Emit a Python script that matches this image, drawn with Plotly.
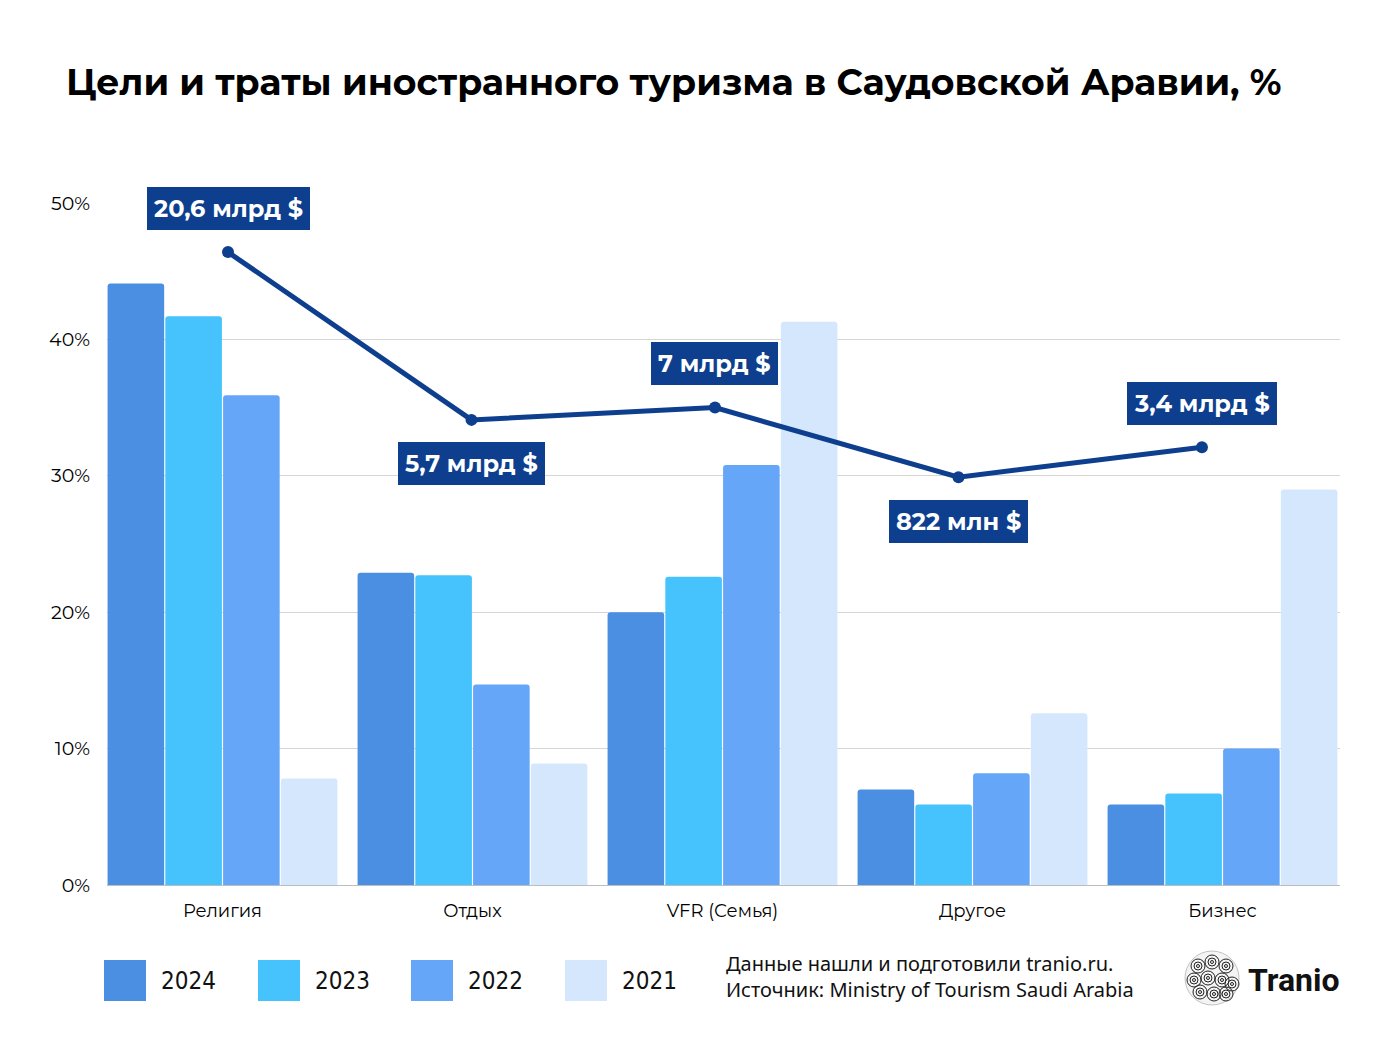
import plotly.graph_objects as go

categories = ["Религия", "Отдых", "VFR (Семья)", "Другое", "Бизнес"]
years = ["2024", "2023", "2022", "2021"]
share_2024 = [44.1, 22.9, 20.0, 7.0, 5.9]
share_2023 = [41.7, 22.7, 22.6, 5.9, 6.7]
share_2022 = [35.9, 14.7, 30.8, 8.2, 10.0]
share_2021 = [7.8, 8.9, 41.3, 12.6, 29.0]
spend_line = [46.4, 34.1, 35.0, 29.9, 32.1]
spend_labels = ["20,6 млрд $", "5,7 млрд $", "7 млрд $", "822 млн $", "3,4 млрд $"]
label_side = [1, -1, 1, -1, 1]
y_ticks = [0, 10, 20, 30, 40, 50]
y_tick_text = [f"{v}%" for v in y_ticks]

colors = ["#4a8fe2", "#46c3fc", "#65a6f9", "#d5e7fd"]
dark = "#0e3f8f"
series = [share_2024, share_2023, share_2022, share_2021]

OFF = 8  # page body margin
W, H = 1386 - OFF, 1040 - OFF
pl, pr, pt, pb = 107 - OFF, 1340 - OFF, 203 - OFF, 885 - OFF


def px(x):
    return (x - OFF - pl) / (pr - pl)


def py(y):
    return (pb - (y - OFF)) / (pb - pt)


fig = go.Figure()
for name, vals, col in zip(years, series, colors):
    fig.add_trace(go.Bar(x=categories, y=vals, name=name, marker=dict(color=col, line=dict(width=0)),
                         showlegend=False, hoverinfo="skip"))

fig.add_trace(go.Scatter(x=list(range(len(categories))), y=spend_line, xaxis="x2", yaxis="y",
                         mode="lines+markers", line=dict(color=dark, width=5),
                         marker=dict(color=dark, size=12), showlegend=False, hoverinfo="skip"))

annotations = []
for i, (v, t, s) in enumerate(zip(spend_line, spend_labels, label_side)):
    annotations.append(dict(x=i, y=v, xref="x2", yref="y", text="<b>" + t + "</b>", showarrow=False,
                            yshift=44 * s, font=dict(family="Montserrat, Lato, sans-serif", size=24, color="white"),
                            bgcolor=dark, bordercolor=dark, borderwidth=1, borderpad=6))

# title
annotations.append(dict(text="<b>Цели и траты иностранного туризма в Саудовской Аравии, %</b>",
                        xref="paper", yref="paper", x=px(64), y=py(82), yanchor="middle", xanchor="left",
                        showarrow=False,
                        font=dict(family="Montserrat, Lato, sans-serif", size=36.2, color="black")))

# custom legend
shapes = []
leg_x0 = [104, 258, 411, 565]
for x0, col, name in zip(leg_x0, colors, years):
    shapes.append(dict(type="rect", xref="paper", yref="paper", x0=px(x0), x1=px(x0 + 42),
                       y0=py(1001), y1=py(960), fillcolor=col, line=dict(width=0)))
    annotations.append(dict(text=name, xref="paper", yref="paper", x=px(x0 + 55), y=py(981),
                            xanchor="left", yanchor="middle", showarrow=False,
                            font=dict(family="Liberation Sans Narrow, DejaVu Sans Condensed, Noto Sans", size=24, color="#111")))

annotations.append(dict(text="Данные нашли и подготовили tranio.ru.<br>Источник: Ministry of Tourism Saudi Arabia",
                        xref="paper", yref="paper", x=px(724), y=py(977), xanchor="left",
                        yanchor="middle", align="left", showarrow=False,
                        font=dict(family="Noto Sans, sans-serif", size=20, color="#111")))
annotations.append(dict(text="<b>Tranio</b>", xref="paper", yref="paper", x=px(1246), y=py(980),
                        xanchor="left", yanchor="middle", showarrow=False,
                        font=dict(family="Roboto, sans-serif", size=32, color="#111")))

# logo: circle with swirl rings
cx, cy, r = 1212, 978, 27
shapes.append(dict(type="circle", xref="paper", yref="paper", x0=px(cx - r), x1=px(cx + r),
                   y0=py(cy + r), y1=py(cy - r), fillcolor="#f4f4f4", line=dict(color="#888", width=0.5)))
for dx, dy in [(-14, -12), (0, -16), (14, -12), (-18, 2), (-4, 0), (10, 2), (20, 6), (-12, 14), (2, 16), (14, 16)]:
    for rr in (7, 4, 1.5):
        shapes.append(dict(type="circle", xref="paper", yref="paper", x0=px(cx + dx - rr), x1=px(cx + dx + rr),
                           y0=py(cy + dy + rr), y1=py(cy + dy - rr), line=dict(color="#222", width=1)))

fig.update_layout(
    width=W, height=H,
    margin=dict(l=pl, r=W - pr, t=pt, b=H - pb, autoexpand=False),
    paper_bgcolor="white", plot_bgcolor="white",
    barmode="group", bargap=0.076, bargroupgap=0.02, barcornerradius=3,
    font=dict(family="Montserrat, Lato, sans-serif", size=17, color="#111"),
    xaxis=dict(range=[-0.462, 4.47], showgrid=False, showline=True, linecolor="#bdbdbd", linewidth=1,
               ticks="", tickfont=dict(size=18, color="#000"), ticklabelstandoff=9, fixedrange=True),
    xaxis2=dict(range=[-0.497, 4.567], overlaying="x", visible=False, fixedrange=True),
    yaxis=dict(range=[0, 50], tickmode="array", tickvals=y_ticks, ticktext=y_tick_text, showgrid=True,
               gridcolor="#d6d6d6", gridwidth=1, zeroline=False, showline=False,
               tickfont=dict(size=19, color="#000"), ticklabelstandoff=16, fixedrange=True),
    shapes=shapes, annotations=annotations, showlegend=False,
)

fig.write_html("out.html")
